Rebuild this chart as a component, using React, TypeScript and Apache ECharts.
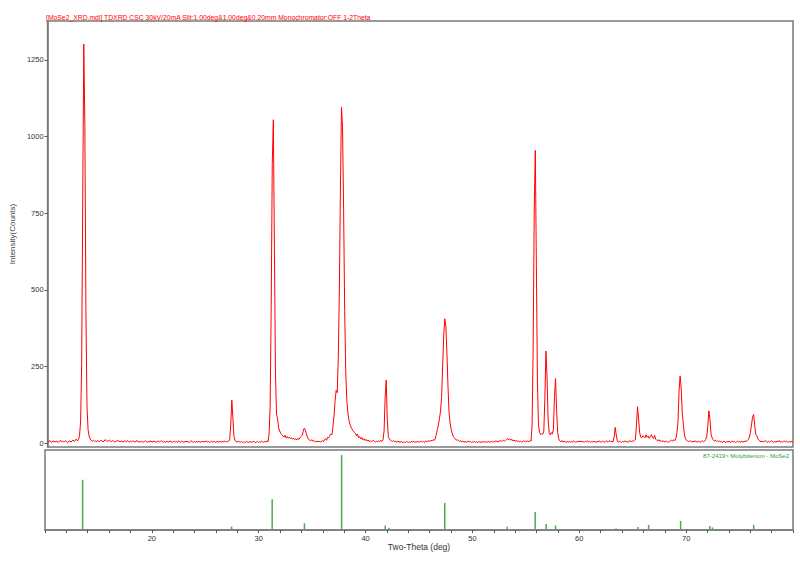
import React, { useEffect, useRef } from "react";
import * as echarts from "echarts";

// Measured 2-Theta scan, 0.1 deg steps, one array per decade
const counts10 = [
  6, 4, 9, 5, 3, 8, 6, 4, 7, 5,
  3, 7, 10, 5, 8, 4, 6, 9, 5, 3,
  6, 8, 4, 7, 11, 6, 9, 14, 8, 12,
  25, 70, 260, 790, 1302, 1040, 430, 120, 45, 24,
  14, 9, 7, 10, 6, 8, 5, 9, 7, 6,
  10, 8, 5, 7, 12, 9, 6, 8, 11, 7,
  5, 9, 7, 4, 8, 6, 10, 7, 5, 8,
  6, 4, 8, 7, 5, 9, 6, 4, 7, 5,
  8, 6, 4, 7, 9, 5, 6, 3, 7, 5,
  4, 6, 8, 5, 3, 7, 5, 8, 4, 6,
];
const counts20 = [
  7, 5, 3, 6, 8, 4, 6, 9, 5, 4,
  6, 3, 7, 5, 4, 8, 6, 3, 5, 7,
  4, 6, 3, 8, 5, 4, 7, 5, 3, 6,
  5, 7, 4, 3, 6, 8, 5, 4, 6, 3,
  7, 4, 6, 5, 3, 7, 4, 6, 5, 8,
  4, 6, 3, 5, 7, 4, 6, 5, 3, 6,
  5, 3, 7, 4, 6, 5, 8, 4, 6, 5,
  7, 12, 60, 141, 85, 22, 9, 6, 4, 7,
  5, 3, 6, 4, 2, 5, 3, 6, 4, 3,
  6, 4, 3, 7, 5, 2, 4, 6, 3, 5,
];
const counts30 = [
  4, 7, 5, 3, 6, 4, 8, 5, 30, 120,
  450, 912, 1055, 640, 225, 95, 80, 50, 40, 32,
  28, 24, 20, 26, 18, 22, 17, 20, 15, 18,
  14, 17, 12, 15, 11, 16, 13, 18, 22, 26,
  38, 49, 44, 32, 20, 14, 10, 8, 12, 7,
  9, 6, 4, 8, 5, 7, 4, 6, 9, 5,
  12, 15, 10, 20, 18, 25, 30, 28, 55, 90,
  140, 173, 165, 280, 500, 830, 1095, 1030, 760, 430,
  230, 140, 100, 75, 62, 52, 46, 40, 36, 33,
  25, 30, 18, 22, 14, 19, 11, 15, 9, 13,
];
const counts40 = [
  8, 11, 6, 9, 5, 8, 10, 6, 4, 7,
  5, 8, 6, 9, 7, 12, 40, 150, 206, 75,
  22, 14, 10, 8, 6, 9, 5, 7, 4, 6,
  5, 3, 6, 4, 2, 5, 3, 6, 4, 3,
  5, 3, 6, 4, 7, 3, 5, 4, 6, 3,
  5, 7, 4, 6, 3, 8, 5, 7, 9, 6,
  10, 8, 12, 9, 14, 30, 45, 60, 80, 105,
  150, 252, 352, 406, 382, 295, 187, 100, 66, 45,
  32, 22, 18, 14, 10, 12, 8, 6, 9, 5,
  7, 4, 6, 3, 5, 8, 4, 6, 3, 5,
];
const counts50 = [
  4, 6, 3, 5, 2, 6, 4, 3, 5, 4,
  6, 3, 5, 4, 7, 3, 5, 6, 4, 7,
  5, 8, 6, 4, 7, 9, 6, 8, 10, 7,
  9, 12, 16, 11, 14, 10, 13, 8, 11, 7,
  9, 6, 8, 5, 7, 4, 6, 8, 5, 7,
  6, 8, 5, 9, 7, 60, 310, 764, 955, 580,
  200, 60, 35, 28, 32, 30, 40, 150, 301, 220,
  80, 35, 28, 35, 30, 45, 150, 211, 110, 35,
  15, 8, 5, 9, 4, 7, 5, 3, 6, 4,
  6, 3, 7, 4, 8, 5, 3, 6, 4, 7,
];
const counts60 = [
  5, 8, 4, 6, 3, 7, 5, 8, 4, 6,
  3, 6, 4, 7, 5, 3, 6, 4, 8, 5,
  4, 7, 5, 3, 6, 8, 4, 6, 9, 5,
  7, 5, 20, 52, 28, 8, 4, 7, 5, 3,
  6, 4, 8, 5, 7, 3, 6, 9, 5, 8,
  6, 10, 12, 60, 119, 80, 35, 20, 18, 25,
  22, 18, 28, 20, 24, 16, 22, 28, 19, 15,
  26, 14, 10, 8, 12, 7, 9, 5, 8, 6,
  4, 7, 5, 3, 6, 8, 10, 7, 12, 9,
  15, 35, 70, 170, 220, 180, 100, 62, 30, 15,
];
const counts70 = [
  10, 8, 5, 9, 6, 4, 7, 5, 8, 6,
  4, 7, 5, 3, 6, 8, 5, 7, 12, 22,
  55, 106, 80, 30, 18, 12, 8, 10, 6, 9,
  5, 8, 4, 6, 3, 7, 5, 2, 6, 4,
  7, 3, 5, 8, 4, 6, 3, 5, 7, 4,
  6, 3, 7, 5, 4, 8, 6, 9, 12, 20,
  35, 60, 85, 94, 60, 30, 25, 15, 10, 7,
  5, 8, 4, 6, 9, 5, 3, 7, 4, 6,
  8, 5, 3, 6, 4, 7, 5, 9, 4, 6,
  3, 6, 8, 4, 7, 5, 3, 6, 4, 7,
];
const counts80 = [5];
const scanStart = 10;
const scanStep = 0.1;

// Reference pattern 87-2419 (MoSe2) sticks
const refTwoTheta = [13.52, 27.46, 31.26, 34.28, 37.76, 41.84, 42.2, 47.41, 53.26, 55.87, 56.9, 57.78, 59.58, 63.44, 65.49, 66.49, 67.27, 69.48, 72.21, 72.46, 73.12, 73.86, 76.32];
const refIntensity = [67, 4.4, 41, 9, 100, 6, 3, 36, 4.4, 24, 8, 6, 1, 2, 4, 6.7, 1.5, 12, 5.3, 3.5, 1, 1, 7];

const yTicks = [0, 250, 500, 750, 1000, 1250];
const xLabels = [20, 30, 40, 50, 60, 70];

const titleText = "[MoSe2_XRD.mdi] TDXRD CSC 30kV/20mA Slit:1.00deg&1.00deg&0.20mm Monochromator:OFF 1-2Theta";
const refLabel = "87-2419> Molybdenum - MoSe2";

export default function App() {
  const ref = useRef<HTMLDivElement>(null);
  useEffect(() => {
    if (!ref.current) return;
    const chart = echarts.init(ref.current, undefined, { renderer: "svg" });
    const allCounts = [...counts10, ...counts20, ...counts30, ...counts40, ...counts50, ...counts60, ...counts70, ...counts80];
    const scan = allCounts.map((c, i) => [Number((scanStart + i * scanStep).toFixed(1)), c]);
    const sticks = refTwoTheta.map((t, i) => [t, refIntensity[i]]);
    const font = "Liberation Sans";
    const frame = "#7a7a7a";
    chart.setOption({
      animation: false,
      backgroundColor: "#ffffff",
      grid: [
        { left: 45, right: 7, top: 21, height: 426, show: true, borderColor: frame, borderWidth: 1.5, backgroundColor: "transparent" },
        { left: 45, right: 7, top: 450, height: 80, show: true, borderColor: frame, borderWidth: 1.5, backgroundColor: "transparent" },
      ],
      xAxis: [
        {
          gridIndex: 0, type: "value", min: 10, max: 80,
          axisLine: { show: false }, axisTick: { show: false }, axisLabel: { show: false }, splitLine: { show: false },
        },
        {
          gridIndex: 1, type: "value", min: 10, max: 80, interval: 2,
          axisLine: { show: true, lineStyle: { color: frame, width: 1.5 } },
          axisTick: { show: true, length: 3, lineStyle: { color: "#555" } },
          axisLabel: {
            margin: 4, fontSize: 7.5, fontFamily: font, color: "#333",
            formatter: (v: number) => (xLabels.includes(v) ? String(v) : ""),
          },
          splitLine: { show: false },
          name: "Two-Theta (deg)", nameLocation: "middle", nameGap: 12,
          nameTextStyle: { fontSize: 8.5, fontFamily: font, color: "#333", verticalAlign: "top" },
        },
      ],
      yAxis: [
        {
          gridIndex: 0, type: "value", min: -12, max: 1377,
          axisLine: { show: true, lineStyle: { color: frame, width: 1.5 } },
          axisTick: { show: true, length: 3, customValues: yTicks, lineStyle: { color: "#555" } },
          axisLabel: { customValues: yTicks, margin: 4, fontSize: 7.5, fontFamily: font, color: "#333", formatter: (v: number) => String(v) },
          splitLine: { show: false },
          name: "Intensity(Counts)", nameLocation: "middle", nameGap: 21, nameRotate: 90,
          nameTextStyle: { fontSize: 8, fontFamily: font, color: "#444" },
        },
        {
          gridIndex: 1, type: "value", min: 0, max: 106.7,
          axisLine: { show: false }, axisTick: { show: false }, axisLabel: { show: false }, splitLine: { show: false },
        },
      ],
      series: [
        {
          type: "line", xAxisIndex: 0, yAxisIndex: 0, data: scan, showSymbol: false, symbol: "none",
          lineStyle: { color: "#ff0000", width: 1 }, clip: true,
        },
        {
          type: "bar", xAxisIndex: 1, yAxisIndex: 1, data: sticks, barWidth: 1.5,
          itemStyle: { color: "#4ea84e" },
        },
      ],
      graphic: [
        { type: "text", left: 46, top: 13.5, style: { text: titleText, fontSize: 6.8, fontFamily: font, fill: "#ff0000" } },
        { type: "text", right: 11, top: 452.5, style: { text: refLabel, fontSize: 6, fontFamily: font, fill: "#2e9e2e" } },
      ],
    });
    return () => chart.dispose();
  }, []);
  return <div ref={ref} style={{ position: "fixed", left: 0, top: 0, width: 800, height: 564 }} />;
}
